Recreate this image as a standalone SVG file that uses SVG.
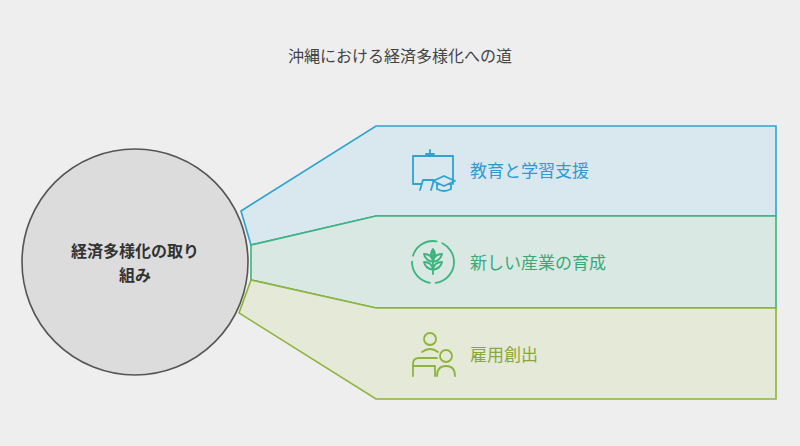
<svg xmlns="http://www.w3.org/2000/svg" width="800" height="446" viewBox="0 0 800 446">
<style>
text{font-family:"Noto Sans CJK JP","Noto Sans",sans-serif}
.ic{fill:none;stroke-width:1.8;stroke-linecap:round;stroke-linejoin:round}
</style>
<rect width="800" height="446" fill="#eeeeee"/>
<text x="400" y="62" text-anchor="middle" font-size="16" fill="#444">沖縄における経済多様化への道</text>
<g id="connectors">
<polygon points="241,211 376,126 776,126 776,216 376,216 251,245" fill="#d9e7ee" stroke="#2ea3d1" stroke-width="1.6"/>
<polygon points="251,245 376,216 776,216 776,308 376,308 251,280" fill="#d9e8e2" stroke="#3bb47e" stroke-width="1.6"/>
<polygon points="251,280 376,308 776,308 776,399 376,399 239,313" fill="#e4e9d8" stroke="#8db43c" stroke-width="1.6"/>
</g>
<g id="center">
<circle cx="135" cy="262" r="113" fill="#dcdcdc" stroke="#555" stroke-width="1.6"/>
<text x="135" y="257" text-anchor="middle" font-size="16" font-weight="bold" fill="#333">経済多様化の取り</text>
<text x="135" y="281" text-anchor="middle" font-size="16" font-weight="bold" fill="#333">組み</text>
</g>
<g id="n1">
<g class="ic" stroke="#2ea3d1">
<path d="M430,150v4M426,154h8M413,156h40v28M413,156v28h8M420,190l3,-10h10M434,180l-3,10"/>
<path d="M433,181l11,-5l11,5l-11,5zM437,183v6q7,4 14,0v-6"/>
</g>
<text x="470" y="177" font-size="17" fill="#2e9ad0">教育と学習支援</text>
</g>
<g id="n2">
<g class="ic" stroke="#3bb47e">
<circle cx="433" cy="262" r="21" stroke-dasharray="30 6"/>
<path d="M433,252v22M433,262q-8,-2 -9,-8q8,0 9,8M433,262q8,-2 9,-8q-8,0 -9,8M433,270q-8,-2 -9,-8q8,0 9,8M433,270q8,-2 9,-8q-8,0 -9,8M433,258q-4,-4 0,-9q4,5 0,9"/>
</g>
<text x="470" y="269" font-size="17" fill="#3aa877">新しい産業の育成</text>
</g>
<g id="n3">
<g class="ic" stroke="#8db43c">
<circle cx="430" cy="339" r="6"/>
<circle cx="446" cy="356" r="6"/>
<path d="M422,352q8,-6 16,0M413,376v-12q0,-6 6,-6h18M413,366h22v10M437,376q0,-10 9,-10q9,0 9,10"/>
</g>
<text x="470" y="361" font-size="17" fill="#8aa838">雇用創出</text>
</g>
</svg>
